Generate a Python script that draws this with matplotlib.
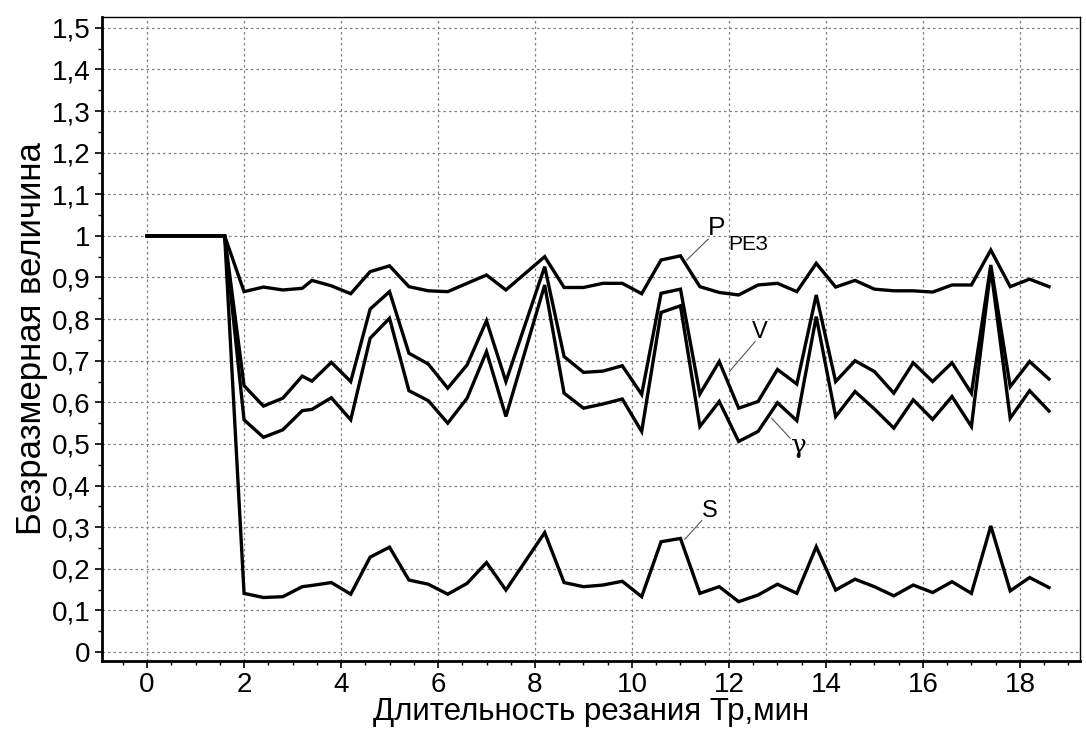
import matplotlib
matplotlib.use('Agg')
import matplotlib.pyplot as plt
from matplotlib.ticker import MultipleLocator, FuncFormatter

plt.rcParams['font.family'] = ['Liberation Sans', 'DejaVu Sans']

# time, min
t = [0, 1.6, 2.0, 2.4, 2.8, 3.2, 3.4, 3.8, 4.2, 4.6, 5.0, 5.4, 5.8, 6.2, 6.6, 7.0, 7.4,
     8.2, 8.6, 9.0, 9.4, 9.8, 10.2, 10.6, 11.0, 11.4, 11.8, 12.2, 12.6, 13.0, 13.4, 13.8,
     14.2, 14.6, 15.0, 15.4, 15.8, 16.2, 16.6, 17.0, 17.4, 17.8, 18.2, 18.6]

p_rez = [1.0, 1.0, 0.866, 0.877, 0.870, 0.874, 0.893, 0.880, 0.861, 0.914, 0.928, 0.878,
         0.868, 0.866, 0.886, 0.906, 0.870, 0.950, 0.876, 0.876, 0.886, 0.886, 0.861, 0.942,
         0.952, 0.878, 0.864, 0.858, 0.882, 0.886, 0.866, 0.934, 0.877, 0.893, 0.872, 0.868,
         0.868, 0.865, 0.882, 0.882, 0.966, 0.878, 0.896, 0.878]

v = [1.0, 1.0, 0.640, 0.591, 0.610, 0.663, 0.651, 0.696, 0.650, 0.824, 0.866, 0.718,
     0.692, 0.634, 0.690, 0.796, 0.650, 0.926, 0.710, 0.672, 0.675, 0.688, 0.619, 0.862,
     0.872, 0.620, 0.698, 0.586, 0.602, 0.679, 0.644, 0.858, 0.650, 0.700, 0.674, 0.622,
     0.695, 0.650, 0.695, 0.622, 0.930, 0.638, 0.698, 0.656]

gamma = [1.0, 1.0, 0.558, 0.516, 0.534, 0.580, 0.583, 0.611, 0.558, 0.754, 0.802, 0.628,
         0.604, 0.550, 0.610, 0.722, 0.566, 0.882, 0.622, 0.586, 0.596, 0.608, 0.530, 0.816,
         0.832, 0.542, 0.602, 0.506, 0.530, 0.599, 0.556, 0.806, 0.566, 0.626, 0.584, 0.538,
         0.606, 0.559, 0.614, 0.542, 0.922, 0.562, 0.628, 0.579]

s = [1.0, 1.0, 0.141, 0.131, 0.133, 0.157, 0.160, 0.167, 0.139, 0.228, 0.252, 0.173,
     0.163, 0.139, 0.165, 0.215, 0.149, 0.287, 0.167, 0.157, 0.161, 0.170, 0.133, 0.265,
     0.273, 0.141, 0.157, 0.121, 0.137, 0.163, 0.141, 0.253, 0.149, 0.175, 0.157, 0.135,
     0.161, 0.143, 0.169, 0.141, 0.303, 0.147, 0.179, 0.155]


def comma_fmt(val, pos):
    txt = f'{val:.1f}'.rstrip('0').rstrip('.')
    if txt == '-0':
        txt = '0'
    return txt.replace('.', ',')


fig = plt.figure(figsize=(10.86, 7.38), dpi=100)
ax = fig.add_axes([0.0939, 0.1043, 0.9006, 0.8727])

for series in (p_rez, v, gamma, s):
    ax.plot(t, series, color='black', linewidth=2.4, solid_joinstyle='miter')

ax.set_xlim(-0.93, 19.24)
ax.set_ylim(-0.0216, 1.526)

ax.xaxis.set_major_locator(MultipleLocator(2))
ax.xaxis.set_minor_locator(MultipleLocator(0.5))
ax.yaxis.set_major_locator(MultipleLocator(0.1))
ax.yaxis.set_minor_locator(MultipleLocator(0.05))
ax.yaxis.set_major_formatter(FuncFormatter(comma_fmt))

ax.grid(True, which='major', color='#808080', linestyle=(0, (2.0, 2.4)), linewidth=0.9)
ax.tick_params(axis='both', which='major', direction='out', length=5, width=1.2,
               labelsize=20, pad=3)
ax.tick_params(axis='both', which='minor', direction='out', length=3, width=1.0)

for side in ('left', 'bottom'):
    ax.spines[side].set_linewidth(2.0)
for side in ('top', 'right'):
    ax.spines[side].set_linewidth(1.0)

ax.set_xlabel('Длительность резания Тр,мин', fontsize=22.5, labelpad=-1)
ax.set_ylabel('Безразмерная величина', fontsize=25, labelpad=3)

# curve labels with leader lines
lead = dict(color='#555555', linewidth=0.8)
ax.plot([11.13, 11.57], [0.942, 0.992], **lead)
ax.text(11.57, 1.002, 'P', fontsize=19, ha='left', va='baseline')
ax.text(11.98, 0.966, 'РЕЗ', fontsize=15, ha='left', va='baseline')

ax.plot([12.01, 12.54], [0.674, 0.746], **lead)
ax.text(12.64, 0.755, 'V', fontsize=17, ha='center', va='baseline')

ax.plot([12.88, 13.26], [0.562, 0.514], **lead)
ax.text(13.44, 0.478, 'γ', fontsize=19, ha='center', va='baseline', family='DejaVu Serif')

ax.plot([11.09, 11.44], [0.271, 0.316], **lead)
ax.text(11.61, 0.325, 'S', fontsize=17, ha='center', va='baseline')

fig.savefig('out.png', dpi=100)
